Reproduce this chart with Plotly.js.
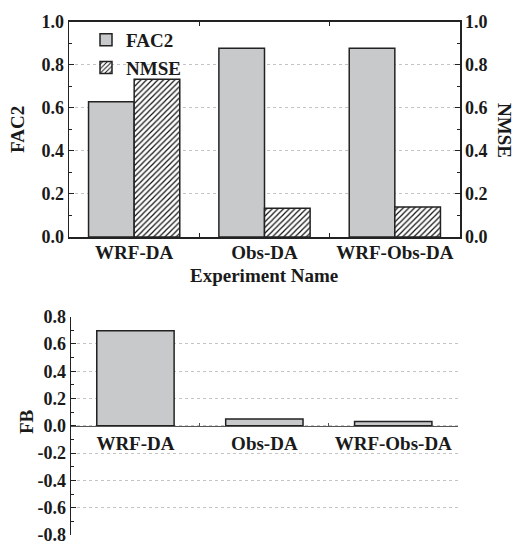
<!DOCTYPE html>
<html>
<head>
<meta charset="utf-8">
<script src="https://cdn.plot.ly/plotly-3.0.1.min.js"></script>
<style>html,body{margin:0;padding:0;background:#fff;}#chart{width:519px;height:545px;}</style>
</head>
<body>
<div id="chart"></div>
<script>
var experiments = ['WRF-DA', 'Obs-DA', 'WRF-Obs-DA'];
var fac2Values = [0.628, 0.877, 0.877];
var nmseValues = [0.733, 0.133, 0.139];
var fbValues = [0.697, 0.050, 0.031];
var topTickVals = [0, 0.2, 0.4, 0.6, 0.8, 1.0];
var topTickText = ['0.0', '0.2', '0.4', '0.6', '0.8', '1.0'];
var fbTickVals = [-0.8, -0.6, -0.4, -0.2, 0, 0.2, 0.4, 0.6, 0.8];
var fbTickText = ['-0.8', '-0.6', '-0.4', '-0.2', '0.0', '0.2', '0.4', '0.6', '0.8'];

var FONT = 'Liberation Serif';
var GRAY = '#c8c9cb';
var H = 545, W = 519;
function py(p) { return 1 - p / H; }
function px(p) { return p / W; }

var traces = [
  {type: 'bar', name: 'FAC2', x: experiments, y: fac2Values, xaxis: 'x', yaxis: 'y',
   offsetgroup: 'a', alignmentgroup: 'g',
   marker: {color: GRAY, line: {color: '#222', width: 1.5}}},
  {type: 'bar', name: 'NMSE', x: experiments, y: nmseValues, xaxis: 'x', yaxis: 'y2',
   offsetgroup: 'b', alignmentgroup: 'g',
   marker: {color: '#fff', line: {color: '#222', width: 1.5},
            pattern: {shape: '/', size: 4, solidity: 0.3, fgcolor: '#111', bgcolor: '#fff', fillmode: 'replace'}}},
  {type: 'bar', name: 'FB', x: experiments, y: fbValues, xaxis: 'x2', yaxis: 'y3',
   width: 0.6, showlegend: false,
   marker: {color: GRAY, line: {color: '#222', width: 1.5}}}
];

var tickFont = {family: FONT, size: 18, weight: 700, color: '#1a1a1a'};
var catFont = {family: FONT, size: 19, weight: 700, color: '#1a1a1a'};
var titleFont = {family: FONT, size: 19, weight: 700, color: '#1a1a1a'};

var fbTop = 316.7, fbBottom = 535;
var fbZero = (fbTop + fbBottom) / 2;

var layout = {
  width: W, height: H,
  margin: {l: 0, r: 0, t: 0, b: 0},
  paper_bgcolor: '#fff', plot_bgcolor: 'rgba(0,0,0,0)',
  barmode: 'group', bargap: 0.3, bargroupgap: 0,
  showlegend: true,
  legend: {x: px(86), y: py(21), xanchor: 'left', yanchor: 'top',
           font: {family: FONT, size: 19, weight: 700, color: '#1a1a1a'},
           bgcolor: 'rgba(255,255,255,0)', tracegroupgap: 0, itemwidth: 30},
  xaxis: {domain: [px(69), px(460)], anchor: 'y', type: 'category',
          showline: true, linecolor: '#222', linewidth: 1.5, mirror: 'ticks',
          ticks: 'inside', ticklen: 4, tickcolor: '#222', tickson: 'boundaries',
          ticklabelstandoff: -2,
          tickfont: catFont, showgrid: false, zeroline: false, automargin: false},
  yaxis: {domain: [py(237), py(21.7)], anchor: 'x', range: [0, 1.0],
          tickvals: topTickVals, ticktext: topTickText, ticklabeloverflow: 'allow',
          showline: true, linecolor: '#222', linewidth: 1.5, mirror: true,
          ticks: 'inside', ticklen: 5, tickcolor: '#222',
          minor: {ticks: 'inside', ticklen: 3, dtick: 0.1, tickcolor: '#222', showgrid: false},
          tickfont: tickFont, showgrid: true, gridcolor: '#c4c4c4', griddash: 'dot', gridwidth: 1,
          zeroline: false, automargin: false},
  yaxis2: {overlaying: 'y', side: 'right', anchor: 'x', range: [0, 1.0],
           tickvals: topTickVals, ticktext: topTickText, ticklabeloverflow: 'allow',
           showline: true, linecolor: '#222', linewidth: 1.5,
           ticks: 'inside', ticklen: 5, tickcolor: '#222',
           minor: {ticks: 'inside', ticklen: 3, dtick: 0.1, tickcolor: '#222', showgrid: false},
           tickfont: tickFont, showgrid: false, zeroline: false, automargin: false},
  xaxis2: {domain: [px(71), px(457.7)], anchor: 'free', position: py(fbZero), type: 'category',
           showline: true, linecolor: '#555', linewidth: 1.5,
           ticks: 'inside', ticklen: 3, tickcolor: '#555', tickson: 'boundaries',
           tickfont: catFont, showgrid: false, zeroline: false, automargin: false},
  yaxis3: {domain: [py(fbBottom), py(fbTop)], anchor: 'x2', range: [-0.8, 0.8],
           tickvals: fbTickVals, ticktext: fbTickText, ticklabeloverflow: 'allow',
           showline: true, linecolor: '#222', linewidth: 1.5,
           ticks: 'inside', ticklen: 5, tickcolor: '#222',
           minor: {ticks: 'inside', ticklen: 3, dtick: 0.1, tickcolor: '#222', showgrid: false},
           tickfont: tickFont, showgrid: true, gridcolor: '#c4c4c4', griddash: 'dot', gridwidth: 1,
           zeroline: false, automargin: false},
  annotations: [
    {text: 'FAC2', textangle: -90, xref: 'paper', yref: 'paper', x: px(17), y: py(130),
     xanchor: 'center', yanchor: 'middle', showarrow: false, font: titleFont},
    {text: 'NMSE', textangle: 90, xref: 'paper', yref: 'paper', x: px(505), y: py(130),
     xanchor: 'center', yanchor: 'middle', showarrow: false, font: titleFont},
    {text: 'Experiment Name', xref: 'paper', yref: 'paper', x: px(264), y: py(275),
     xanchor: 'center', yanchor: 'middle', showarrow: false, font: titleFont},
    {text: 'FB', textangle: -90, xref: 'paper', yref: 'paper', x: px(26), y: py(422),
     xanchor: 'center', yanchor: 'middle', showarrow: false, font: titleFont}
  ]
};

Plotly.newPlot('chart', traces, layout, {displayModeBar: false, staticPlot: true});
</script>
</body>
</html>
